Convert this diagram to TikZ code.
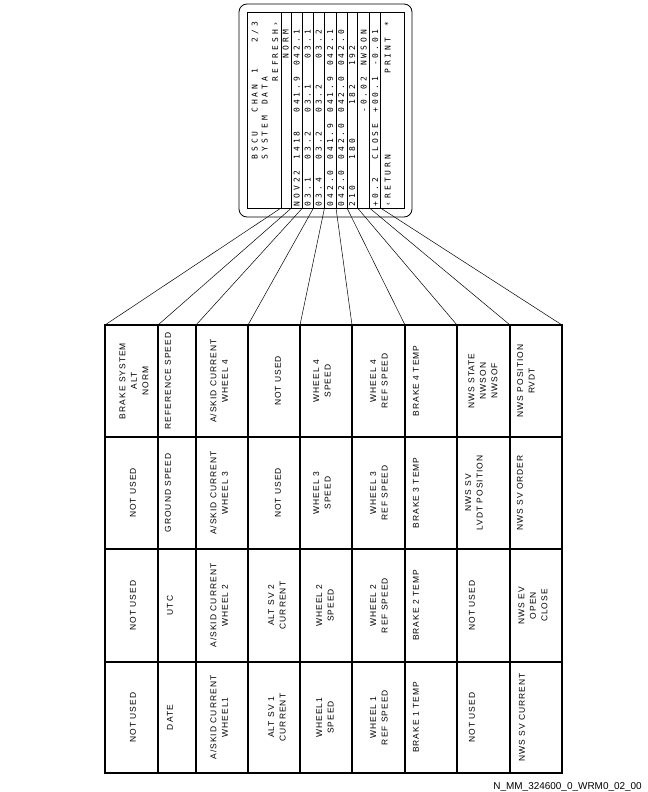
\documentclass[tikz,border=0pt]{standalone}
\usepackage{fontspec}
\usepackage{tikz}
\setmainfont{Liberation Sans}
\newfontfamily\cellfont[LetterSpace=12]{Liberation Sans}
\newfontfamily\screenfont{DejaVu Sans Mono}

% one character per fixed cell of the display
\makeatletter
\newcommand\mcdu[1]{\@tfor\mcdu@c:=#1\do{\makebox[7.8bp]{\mcdu@c}}}
\makeatother

\begin{document}
\begin{tikzpicture}[x=1bp,y=-1bp,
  cell/.style={rotate=90, align=center, inner sep=0pt, font=\cellfont\fontsize{8.5}{11.5}\selectfont},
  scr/.style={rotate=90, anchor=mid west, inner sep=0pt, font=\screenfont\fontsize{8}{9}\selectfont},
  grid/.style={line width=1.5bp, line cap=rect},
  wire/.style={line width=0.5bp}]
\useasboundingbox[fill=white] (0,0) rectangle (648,792);

% Display
\draw[line width=0.8bp, rounded corners=8bp] (239,4) rectangle (412,217);
\draw[line width=0.8bp] (247,12) rectangle (404,208);

\coordinate (s1) at (281,208);
\coordinate (s2) at (291.5,208);
\coordinate (s3) at (302.5,208);
\coordinate (s4) at (313.5,208);
\coordinate (s5) at (324.5,208);
\coordinate (s6) at (336,208);
\coordinate (s7) at (347,208);
\coordinate (s8) at (357.5,208);
\coordinate (s9) at (369.5,208);
\coordinate (s10) at (380.5,208);

\draw[line width=0.6bp] (s1) -- ++(0,-196);
\draw[line width=0.6bp] (s2) -- ++(0,-196);
\draw[line width=0.6bp] (s3) -- ++(0,-196);
\draw[line width=0.6bp] (s4) -- ++(0,-196);
\draw[line width=0.6bp] (s5) -- ++(0,-196);
\draw[line width=0.6bp] (s6) -- ++(0,-196);
\draw[line width=0.6bp] (s7) -- ++(0,-196);
\draw[line width=0.6bp] (s8) -- ++(0,-196);
\draw[line width=0.6bp] (s9) -- ++(0,-196);
\draw[line width=0.6bp] (s10) -- ++(0,-196);

\node[scr] (title)   at (255,208) {\mcdu{~~~~~~BSCU~~CHAN~1~~~2/3}};
\node[scr] (sysdata) at (265,208) {\mcdu{~~~~~~SYSTEM~DATA}};
\node[scr] (refresh) at (275.5,208) {\mcdu{~~~~~~~~~~~~~~~~REFRESH›}};
\node[scr] (norm)    at (286,208) {\mcdu{~~~~~~~~~~~~~~~~~~~NORM}};
\node[scr] (date)    at (297,208) {\mcdu{NOV22~1418~~041.9~042.1}};
\node[scr] (skid)    at (308,208) {\mcdu{03.1~~03.2~~03.1~~~03.1}};
\node[scr] (altsv)   at (319,208) {\mcdu{03.4~~03.2~~03.2~~~03.2}};
\node[scr] (wspeed)  at (330.5,208) {\mcdu{042.0~041.9~041.9~042.1}};
\node[scr] (rspeed)  at (341.5,208) {\mcdu{042.0~042.0~042.0~042.0}};
\node[scr] (btemp)   at (352.5,208) {\mcdu{210~~~180~~~~182~~192}};
\node[scr] (nwsstat) at (364,208) {\mcdu{~~~~~~~~~~~~-0.02~NWSON}};
\node[scr] (nwssv)   at (375.5,208) {\mcdu{+0.2~~CLOSE~+00.1~-0.01}};
\node[scr] (prompt)  at (388,208) {\mcdu{‹RETURN~~~~~~~~~~PRINT~*}};

% Table
\coordinate (t1) at (105,325);
\coordinate (t2) at (158,325);
\coordinate (t3) at (196,325);
\coordinate (t4) at (248,325);
\coordinate (t5) at (300,325);
\coordinate (t6) at (352,325);
\coordinate (t7) at (405,325);
\coordinate (t8) at (457,325);
\coordinate (t9) at (510,325);
\coordinate (t10) at (562,325);

\draw[grid] (t1) -- ++(0,448);
\draw[grid] (t2) -- ++(0,448);
\draw[grid] (t3) -- ++(0,448);
\draw[grid] (t4) -- ++(0,448);
\draw[grid] (t5) -- ++(0,448);
\draw[grid] (t6) -- ++(0,448);
\draw[grid] (t7) -- ++(0,448);
\draw[grid] (t8) -- ++(0,448);
\draw[grid] (t9) -- ++(0,448);
\draw[grid] (t10) -- ++(0,448);
\draw[grid] (t1) -- (t10);
\draw[grid] (105,437) -- (562,437);
\draw[grid] (105,549) -- (562,549);
\draw[grid] (105,662) -- (562,662);
\draw[grid] (105,773) -- (562,773);

% leader lines, display columns to table columns
\draw[wire] (s1) -- (t1);
\draw[wire] (s2) -- (t2);
\draw[wire] (s3) -- (t3);
\draw[wire] (s4) -- (t4);
\draw[wire] (s5) -- (t5);
\draw[wire] (s6) -- (t6);
\draw[wire] (s7) -- (t7);
\draw[wire] (s8) -- (t8);
\draw[wire] (s9) -- (t9);
\draw[wire] (s10) -- (t10);

% row 1
\node[cell] (r1c1) at (134,381) {BRAKE SYSTEM\\ALT\\NORM};
\node[cell] (r1c2) at (168,381) {REFERENCE SPEED};
\node[cell] (r1c3) at (219,381) {A/SKID CURRENT\\WHEEL 4};
\node[cell] (r1c4) at (278,381) {NOT USED};
\node[cell] (r1c5) at (322,381) {WHEEL 4\\SPEED};
\node[cell] (r1c6) at (379,381) {WHEEL 4\\REF SPEED};
\node[cell] (r1c7) at (416,381) {BRAKE 4 TEMP};
\node[cell] (r1c8) at (483,381) {NWS STATE\\NWSON\\NWSOF};
\node[cell] (r1c9) at (526,381) {NWS POSITION\\RVDT};
% row 2
\node[cell] (r2c1) at (133,493) {NOT USED};
\node[cell] (r2c2) at (168,493) {GROUND SPEED};
\node[cell] (r2c3) at (219,493) {A/SKID CURRENT\\WHEEL 3};
\node[cell] (r2c4) at (278,493) {NOT USED};
\node[cell] (r2c5) at (322,493) {WHEEL 3\\SPEED};
\node[cell] (r2c6) at (379,493) {WHEEL 3\\REF SPEED};
\node[cell] (r2c7) at (416,493) {BRAKE 3 TEMP};
\node[cell] (r2c8) at (474,493) {NWS SV\\LVDT POSITION};
\node[cell] (r2c9) at (520,493) {NWS SV ORDER};
% row 3
\node[cell] (r3c1) at (133,605.5) {NOT USED};
\node[cell] (r3c2) at (170,605.5) {UTC};
\node[cell] (r3c3) at (219,605.5) {A/SKID CURRENT\\WHEEL 2};
\node[cell] (r3c4) at (277,605.5) {ALT SV 2\\CURRENT};
\node[cell] (r3c5) at (325,605.5) {WHEEL 2\\SPEED};
\node[cell] (r3c6) at (379,605.5) {WHEEL 2\\REF SPEED};
\node[cell] (r3c7) at (416,605.5) {BRAKE 2 TEMP};
\node[cell] (r3c8) at (472,605.5) {NOT USED};
\node[cell] (r3c9) at (533,605.5) {NWS EV\\OPEN\\CLOSE};
% row 4
\node[cell] (r4c1) at (133,717.5) {NOT USED};
\node[cell] (r4c2) at (170,717.5) {DATE};
\node[cell] (r4c3) at (219,717.5) {A/SKID CURRENT\\WHEEL1};
\node[cell] (r4c4) at (277,717.5) {ALT SV 1\\CURRENT};
\node[cell] (r4c5) at (325,717.5) {WHEEL1\\SPEED};
\node[cell] (r4c6) at (379,717.5) {WHEEL 1\\REF SPEED};
\node[cell] (r4c7) at (416,717.5) {BRAKE 1 TEMP};
\node[cell] (r4c8) at (472,717.5) {NOT USED};
\node[cell] (r4c9) at (522,717.5) {NWS SV CURRENT};

\node[anchor=base east, inner sep=0pt, font=\fontsize{10}{12}\selectfont] (figref) at (642,789) {N\_MM\_324600\_0\_WRM0\_02\_00};
\end{tikzpicture}
\end{document}
